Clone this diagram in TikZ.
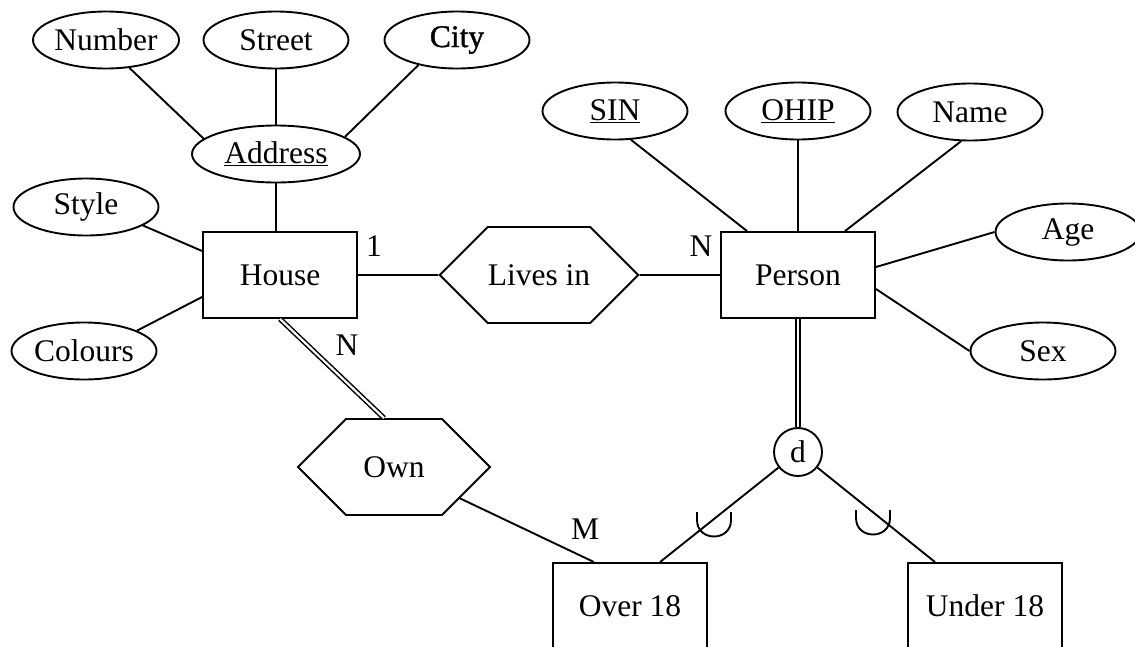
\documentclass[tikz,border=0pt]{standalone}
\usepackage{fontspec}
\setmainfont{Liberation Serif}
\newfontfamily\heavyserif[FakeBold=1.2]{Liberation Serif}
\usetikzlibrary{shapes.geometric,shapes.symbols}
\tikzset{
  attrib/.style={draw, ellipse, minimum width=145, minimum height=57, inner sep=0pt},
  entity/.style={draw, rectangle, minimum width=154, minimum height=86, inner sep=0pt},
  relship/.style={draw, signal, signal to=west and east, signal pointer angle=90,
    minimum width=192, minimum height=96, inner sep=0pt},
  card/.style={inner sep=0pt},
  total/.style={double, double distance=2.2pt, line width=1.5pt},
  cup/.pic={\draw (-17,-8) -- (-17,0) .. controls (-17,22) and (17,22) .. (17,0) -- (17,-8);}
}

\begin{document}
\begin{tikzpicture}[x=1pt, y=-1pt, line width=1.9pt, font=\fontsize{31.5}{36}\selectfont]
\useasboundingbox (0,0) rectangle (1135,646);

\node[attrib] (number) at (106,40) {Number};
\node[attrib] (street) at (276,40) {Street};
\node[attrib] (city) at (457,40) {\heavyserif City};
\node[attrib, minimum width=168] (address) at (276,154) {\underline{Address}};
\node[attrib] (style) at (86,207) {Style};
\node[attrib] (colours) at (84,351) {Colours};
\node[entity] (house) at (280,275) {House};

\node[attrib] (sin) at (615,111) {\underline{SIN}};
\node[attrib] (ohip) at (798,111) {\underline{OHIP}};
\node[attrib] (name) at (970,112) {Name};
\node[attrib] (age) at (1068,232) {Age};
\node[attrib] (sex) at (1043,351) {Sex};
\node[entity] (person) at (798,275) {Person};

\node[relship] (livesin) at (539,275) {Lives in};
\node[relship] (own) at (394,467) {Own};

\node[draw, circle, minimum size=48, inner sep=0pt] (d) at (798,452) {d};
\node[entity] (over) at (630,606) {Over 18};
\node[entity] (under) at (985,606) {Under 18};

\node[card] (one) at (374,246) {1};
\node[card] (nlives) at (701,246) {N};
\node[card] (nown) at (347,345) {N};
\node[card] (mover) at (585,529) {M};

\draw (number.-50) -- (address.168);
\draw (street) -- (address);
\draw (city.-147) -- (address.14);
\draw (address.south) -- (address.south |- house.north);
\draw (style.-18) -- ([yshift=24]house.west);
\draw (colours.21) -- ([yshift=-22]house.west);

\draw (house) -- (livesin);
\draw (livesin) -- (person);

\draw (sin.-61) -- ([xshift=-51]person.north);
\draw (ohip) -- (person);
\draw (name.-107) -- ([xshift=47]person.north);
\draw (age.west) -- ([yshift=8]person.east);
\draw (sex.west) -- ([yshift=-14]person.east);

\draw[total] (house.south) -- ([xshift=-10]own.north);
\draw (own) -- ([xshift=-36]over.north);

\draw[total] (person) -- (d);
\draw (d) -- ([xshift=30]over.north);
\draw (d) -- ([xshift=-50]under.north);
\pic at (714,520) {cup};
\pic at (873,518) {cup};
\end{tikzpicture}
\end{document}
